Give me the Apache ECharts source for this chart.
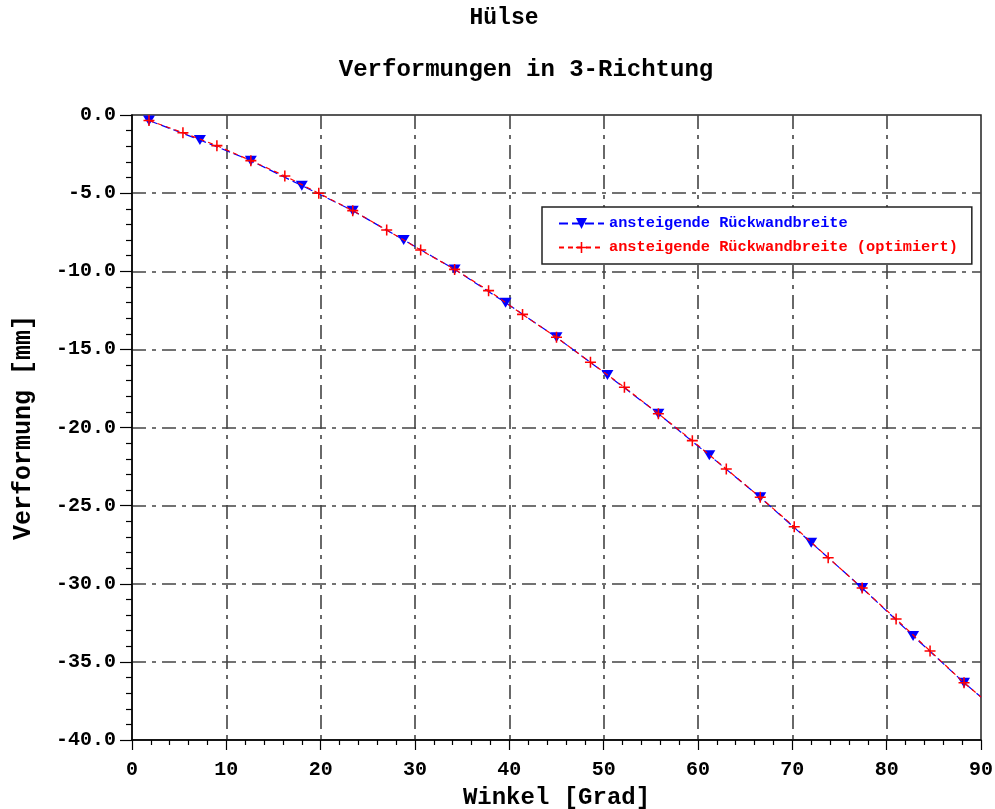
<!DOCTYPE html>
<html>
<head>
<meta charset="utf-8">
<script src="https://cdn.jsdelivr.net/npm/echarts@6/dist/echarts.min.js"></script>
<style>
  html, body { margin: 0; padding: 0; background: #fff; }
  #chart { width: 995px; height: 809px; }
</style>
</head>
<body>
<div id="chart"></div>
<script>
// Winkel [Grad] und Verformung [mm], Reihe "ansteigende Rückwandbreite"
var winkelA = [1.8, 7.2, 12.6, 18.0, 23.4, 28.8, 34.2, 39.6, 45.0, 50.4, 55.8, 61.2, 66.6, 72.0, 77.4, 82.8, 88.2, 90.0];
var verformA = [-0.35, -1.60, -2.92, -4.52, -6.12, -8.00, -9.88, -12.01, -14.23, -16.64, -19.12, -21.78, -24.47, -27.37, -30.27, -33.34, -36.33, -37.25];

// Reihe "ansteigende Rückwandbreite (optimiert)"
var winkelB = [1.8, 5.4, 9.0, 12.6, 16.2, 19.8, 23.4, 27.0, 30.6, 34.2, 37.8, 41.4, 45.0, 48.6, 52.2, 55.8, 59.4, 63.0, 66.6, 70.2, 73.8, 77.4, 81.0, 84.6, 88.2, 90.0];
var verformB = [-0.35, -1.13, -1.96, -2.92, -3.90, -5.01, -6.12, -7.36, -8.64, -9.88, -11.24, -12.76, -14.23, -15.83, -17.43, -19.12, -20.84, -22.66, -24.47, -26.35, -28.33, -30.27, -32.26, -34.30, -36.33, -37.25];

var seriesNames = ['ansteigende Rückwandbreite', 'ansteigende Rückwandbreite (optimiert)'];
var titleMain = 'Hülse';
var titleSub = 'Verformungen in 3-Richtung';
var xName = 'Winkel [Grad]';
var yName = 'Verformung [mm]';

var FONT = '"Liberation Mono", "DejaVu Sans Mono", monospace';
var GRID_DASH = [14, 6, 4, 6];

function pairs(xs, ys) {
  return xs.map(function (x, i) {
    var p = { value: [x, ys[i]] };
    // the curve runs on to 90 degrees without a marker at its end
    if (i === xs.length - 1) p.symbol = 'none';
    return p;
  });
}

var PLUS = 'path://M4.3,0h1.4v4.3h4.3v1.4h-4.3v4.3h-1.4v-4.3h-4.3v-1.4h4.3z';

var chart = echarts.init(document.getElementById('chart'));
chart.setOption({
  backgroundColor: '#fff',
  animation: false,
  graphic: [
    { type: 'text', x: 504, y: 18,
      style: { text: titleMain, fill: '#000', font: 'bold 23px ' + FONT, textAlign: 'center', textVerticalAlign: 'middle' } },
    { type: 'text', x: 526, y: 70,
      style: { text: titleSub, fill: '#000', font: 'bold 24px ' + FONT, textAlign: 'center', textVerticalAlign: 'middle' } }
  ],
  grid: {
    left: 132, right: 14, top: 115, bottom: 69,
    outerBoundsMode: 'none',
    containLabel: false,
    show: true, borderColor: '#222', borderWidth: 1.5, backgroundColor: 'transparent'
  },
  legend: {
    orient: 'vertical',
    left: 542, top: 207,
    padding: [9, 14, 9, 16],
    itemGap: 9,
    itemWidth: 45,
    itemHeight: 14,
    backgroundColor: '#fff',
    borderColor: '#222',
    borderWidth: 1.5,
    borderRadius: 0,
    textStyle: { fontFamily: FONT, fontWeight: 'bold', fontSize: 15.3 },
    data: [
      { name: seriesNames[0], textStyle: { color: '#0000ff' } },
      { name: seriesNames[1], textStyle: { color: '#ff0000' } }
    ]
  },
  xAxis: {
    type: 'value',
    min: 0, max: 90, interval: 10,
    name: xName,
    nameLocation: 'middle',
    nameGap: 46,
    nameTextStyle: { fontFamily: FONT, fontWeight: 'bold', fontSize: 24, color: '#000' },
    axisLine: { show: true, onZero: false, lineStyle: { color: '#000', width: 1.5 } },
    axisTick: { show: true, inside: false, length: 10, lineStyle: { color: '#000', width: 1.2 } },
    minorTick: { show: true, splitNumber: 5, length: 5, lineStyle: { color: '#000', width: 1.2 } },
    axisLabel: { margin: 20, fontFamily: FONT, fontWeight: 'bold', fontSize: 20, color: '#000' },
    splitLine: { show: true, showMinLine: false, showMaxLine: false,
      lineStyle: { color: '#444', width: 1.6, type: GRID_DASH } }
  },
  yAxis: {
    type: 'value',
    min: -40, max: 0, interval: 5,
    name: yName,
    nameLocation: 'middle',
    nameGap: 96,
    nameRotate: 90,
    nameTextStyle: { fontFamily: FONT, fontWeight: 'bold', fontSize: 25, color: '#000' },
    axisLine: { show: true, onZero: false, lineStyle: { color: '#000', width: 1.5 } },
    axisTick: { show: true, inside: false, length: 12, lineStyle: { color: '#000', width: 1.2 } },
    minorTick: { show: true, splitNumber: 5, length: 6, lineStyle: { color: '#000', width: 1.2 } },
    axisLabel: { margin: 16, fontFamily: FONT, fontWeight: 'bold', fontSize: 20, color: '#000',
      formatter: function (v) { return v.toFixed(1); } },
    splitLine: { show: true, showMinLine: false, showMaxLine: false,
      lineStyle: { color: '#444', width: 1.6, type: GRID_DASH } }
  },
  series: [
    {
      name: seriesNames[0],
      type: 'line',
      data: pairs(winkelA, verformA),
      symbol: 'triangle',
      symbolRotate: 180,
      symbolSize: [12, 10],
      showAllSymbol: true,
      itemStyle: { color: '#0000ff' },
      lineStyle: { color: '#0000ff', width: 1.2, type: [9, 4] },
      z: 3
    },
    {
      name: seriesNames[1],
      type: 'line',
      data: pairs(winkelB, verformB),
      symbol: PLUS,
      symbolSize: 11,
      showAllSymbol: true,
      itemStyle: { color: '#ff0000' },
      lineStyle: { color: '#ff0000', width: 1.2, type: [5, 4] },
      z: 4
    }
  ]
});
</script>
</body>
</html>
